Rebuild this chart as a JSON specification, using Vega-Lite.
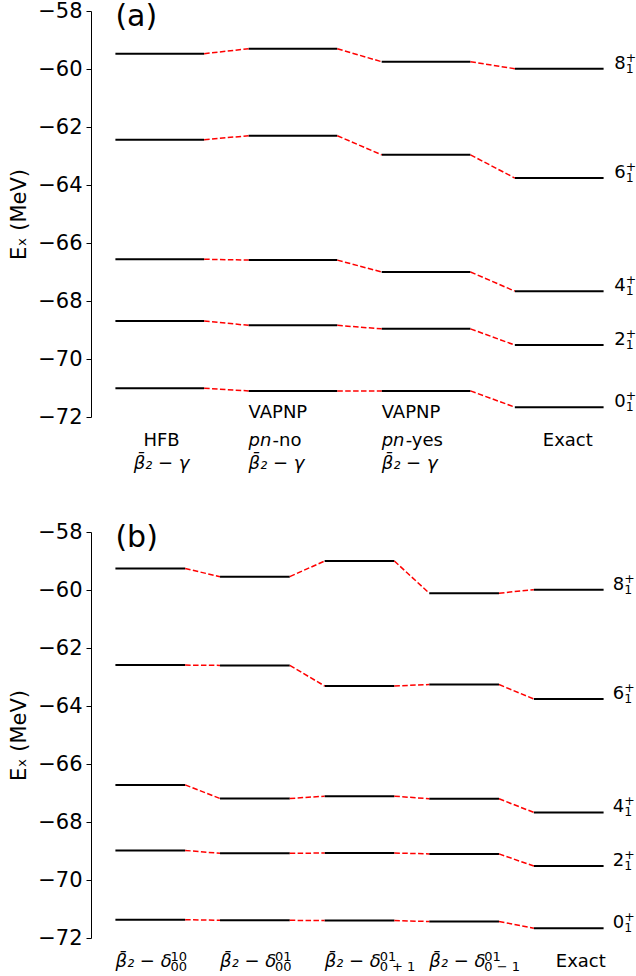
{
  "$schema": "https://vega.github.io/schema/vega-lite/v6.json",
  "padding": {"left": 8, "top": 0, "right": 0, "bottom": 0},
  "bounds": "flush",
  "spacing": 115,
  "config": {
    "font": "DejaVu Sans",
    "view": {"stroke": null},
    "axis": {"grid": false, "labelFontSize": 21, "labelColor": "black", "tickColor": "black", "domainColor": "black", "tickSize": 5, "labelPadding": 4, "titleFontSize": 21, "titleFontWeight": "normal", "titleColor": "black", "titlePadding": 8, "labelFlush": false, "labelOverlap": false}
  },
  "datasets": {
    "levels": [
      {"panel": "a", "method": "HFB", "m": 0, "state": "8", "E": -59.47},
      {"panel": "a", "method": "HFB", "m": 0, "state": "6", "E": -62.44},
      {"panel": "a", "method": "HFB", "m": 0, "state": "4", "E": -66.56},
      {"panel": "a", "method": "HFB", "m": 0, "state": "2", "E": -68.69},
      {"panel": "a", "method": "HFB", "m": 0, "state": "0", "E": -71.01},
      {"panel": "a", "method": "VAPNP pn-no", "m": 1, "state": "8", "E": -59.30},
      {"panel": "a", "method": "VAPNP pn-no", "m": 1, "state": "6", "E": -62.30},
      {"panel": "a", "method": "VAPNP pn-no", "m": 1, "state": "4", "E": -66.59},
      {"panel": "a", "method": "VAPNP pn-no", "m": 1, "state": "2", "E": -68.84},
      {"panel": "a", "method": "VAPNP pn-no", "m": 1, "state": "0", "E": -71.10},
      {"panel": "a", "method": "VAPNP pn-yes", "m": 2, "state": "8", "E": -59.75},
      {"panel": "a", "method": "VAPNP pn-yes", "m": 2, "state": "6", "E": -62.96},
      {"panel": "a", "method": "VAPNP pn-yes", "m": 2, "state": "4", "E": -67.00},
      {"panel": "a", "method": "VAPNP pn-yes", "m": 2, "state": "2", "E": -68.96},
      {"panel": "a", "method": "VAPNP pn-yes", "m": 2, "state": "0", "E": -71.10},
      {"panel": "a", "method": "Exact", "m": 3, "state": "8", "E": -59.99},
      {"panel": "a", "method": "Exact", "m": 3, "state": "6", "E": -63.76},
      {"panel": "a", "method": "Exact", "m": 3, "state": "4", "E": -67.66},
      {"panel": "a", "method": "Exact", "m": 3, "state": "2", "E": -69.52},
      {"panel": "a", "method": "Exact", "m": 3, "state": "0", "E": -71.66},
      {"panel": "b", "method": "d00-10", "m": 0, "state": "8", "E": -59.26},
      {"panel": "b", "method": "d00-10", "m": 0, "state": "6", "E": -62.59},
      {"panel": "b", "method": "d00-10", "m": 0, "state": "4", "E": -66.72},
      {"panel": "b", "method": "d00-10", "m": 0, "state": "2", "E": -68.98},
      {"panel": "b", "method": "d00-10", "m": 0, "state": "0", "E": -71.37},
      {"panel": "b", "method": "d00-01", "m": 1, "state": "8", "E": -59.54},
      {"panel": "b", "method": "d00-01", "m": 1, "state": "6", "E": -62.60},
      {"panel": "b", "method": "d00-01", "m": 1, "state": "4", "E": -67.19},
      {"panel": "b", "method": "d00-01", "m": 1, "state": "2", "E": -69.08},
      {"panel": "b", "method": "d00-01", "m": 1, "state": "0", "E": -71.39},
      {"panel": "b", "method": "d0+1-01", "m": 2, "state": "8", "E": -59.00},
      {"panel": "b", "method": "d0+1-01", "m": 2, "state": "6", "E": -63.31},
      {"panel": "b", "method": "d0+1-01", "m": 2, "state": "4", "E": -67.11},
      {"panel": "b", "method": "d0+1-01", "m": 2, "state": "2", "E": -69.07},
      {"panel": "b", "method": "d0+1-01", "m": 2, "state": "0", "E": -71.40},
      {"panel": "b", "method": "d0-1-01", "m": 3, "state": "8", "E": -60.11},
      {"panel": "b", "method": "d0-1-01", "m": 3, "state": "6", "E": -63.26},
      {"panel": "b", "method": "d0-1-01", "m": 3, "state": "4", "E": -67.20},
      {"panel": "b", "method": "d0-1-01", "m": 3, "state": "2", "E": -69.10},
      {"panel": "b", "method": "d0-1-01", "m": 3, "state": "0", "E": -71.43},
      {"panel": "b", "method": "Exact", "m": 4, "state": "8", "E": -59.99},
      {"panel": "b", "method": "Exact", "m": 4, "state": "6", "E": -63.76},
      {"panel": "b", "method": "Exact", "m": 4, "state": "4", "E": -67.67},
      {"panel": "b", "method": "Exact", "m": 4, "state": "2", "E": -69.52},
      {"panel": "b", "method": "Exact", "m": 4, "state": "0", "E": -71.66}
    ],
    "labels": [
      {"panel": "a", "m": 0, "line": 2, "part": "plain", "text": "HFB"},
      {"panel": "a", "m": 0, "line": 3, "part": "math", "text": "\u03b2\u0304\u2082 \u2212 \u03b3"},
      {"panel": "a", "m": 1, "line": 1, "part": "plain", "text": "VAPNP"},
      {"panel": "a", "m": 1, "line": 2, "part": "math", "text": "pn"},
      {"panel": "a", "m": 1, "line": 2, "part": "tail", "text": "-no"},
      {"panel": "a", "m": 1, "line": 3, "part": "math", "text": "\u03b2\u0304\u2082 \u2212 \u03b3"},
      {"panel": "a", "m": 2, "line": 1, "part": "plain", "text": "VAPNP"},
      {"panel": "a", "m": 2, "line": 2, "part": "math", "text": "pn"},
      {"panel": "a", "m": 2, "line": 2, "part": "tail", "text": "-yes"},
      {"panel": "a", "m": 2, "line": 3, "part": "math", "text": "\u03b2\u0304\u2082 \u2212 \u03b3"},
      {"panel": "a", "m": 3, "line": 2, "part": "plain", "text": "Exact"},
      {"panel": "b", "m": 0, "line": 2, "part": "math", "text": "\u03b2\u0304\u2082 \u2212 \u03b4", "sup": "10", "sub": "00"},
      {"panel": "b", "m": 1, "line": 2, "part": "math", "text": "\u03b2\u0304\u2082 \u2212 \u03b4", "sup": "01", "sub": "00"},
      {"panel": "b", "m": 2, "line": 2, "part": "math", "text": "\u03b2\u0304\u2082 \u2212 \u03b4", "sup": "01", "sub": "0 + 1"},
      {"panel": "b", "m": 3, "line": 2, "part": "math", "text": "\u03b2\u0304\u2082 \u2212 \u03b4", "sup": "01", "sub": "0 \u2212 1"},
      {"panel": "b", "m": 4, "line": 2, "part": "plain", "text": "Exact"},
      {"panel": "a", "m": 0, "line": 0, "part": "tag", "text": "(a)"},
      {"panel": "b", "m": 0, "line": 0, "part": "tag", "text": "(b)"}
    ]
  },
  "vconcat": [
    {
      "width": 537, "height": 406,
      "layer": [
        {
          "data": {"name": "levels"},
          "transform": [{"filter": "datum.panel === 'a'"}, {"calculate": "3*datum.m", "as": "x0"}, {"calculate": "3*datum.m+2", "as": "x1"}],
          "mark": {"type": "rule", "color": "black", "strokeWidth": 2},
          "encoding": {
            "x": {"field": "x0", "type": "quantitative", "scale": {"domain": [-0.55, 11.55], "nice": false, "zero": false}, "axis": null},
            "x2": {"field": "x1"},
            "y": {"field": "E", "type": "quantitative", "scale": {"domain": [-72, -58], "nice": false, "zero": false}, "axis": {"values": [-72, -70, -68, -66, -64, -62, -60, -58], "title": "E\u2093 (MeV)"}}
          }
        },
        {
          "data": {"name": "levels"},
          "transform": [
            {"filter": "datum.panel === 'a'"},
            {"window": [{"op": "lead", "field": "E", "as": "En"}], "groupby": ["state"], "sort": [{"field": "m", "order": "ascending"}]},
            {"filter": "datum.En != null"},
            {"calculate": "3*datum.m+2", "as": "xa"},
            {"calculate": "3*datum.m+3", "as": "xb"}
          ],
          "mark": {"type": "rule", "color": "red", "strokeWidth": 1.5, "strokeDash": [5.5, 2.4]},
          "encoding": {
            "x": {"field": "xa", "type": "quantitative", "scale": {"domain": [-0.55, 11.55], "nice": false, "zero": false}, "axis": null},
            "x2": {"field": "xb"},
            "y": {"field": "E", "type": "quantitative", "scale": {"domain": [-72, -58], "nice": false, "zero": false}, "axis": {"values": [-72, -70, -68, -66, -64, -62, -60, -58], "title": "E\u2093 (MeV)"}},
            "y2": {"field": "En"}
          }
        },
        {
          "data": {"name": "levels"},
          "transform": [{"filter": "datum.panel === 'a' && datum.method === 'Exact'"}, {"calculate": "3*datum.m+2.24", "as": "lx"}],
          "mark": {"type": "text", "align": "left", "baseline": "alphabetic", "fontSize": 18, "color": "black"},
          "encoding": {
            "x": {"field": "lx", "type": "quantitative", "scale": {"domain": [-0.55, 11.55], "nice": false, "zero": false}, "axis": null},
            "y": {"field": "E", "type": "quantitative", "scale": {"domain": [-72, -58], "nice": false, "zero": false}, "axis": {"values": [-72, -70, -68, -66, -64, -62, -60, -58], "title": "E\u2093 (MeV)"}},
            "text": {"field": "state"}
          }
        },
        {
          "data": {"name": "levels"},
          "transform": [{"filter": "datum.panel === 'a' && datum.method === 'Exact'"}, {"calculate": "3*datum.m+2.24", "as": "lx"}],
          "mark": {"type": "text", "align": "left", "baseline": "alphabetic", "fontSize": 12.5, "dx": 11.5, "dy": -7, "color": "black"},
          "encoding": {
            "x": {"field": "lx", "type": "quantitative", "scale": {"domain": [-0.55, 11.55], "nice": false, "zero": false}, "axis": null},
            "y": {"field": "E", "type": "quantitative", "scale": {"domain": [-72, -58], "nice": false, "zero": false}, "axis": {"values": [-72, -70, -68, -66, -64, -62, -60, -58], "title": "E\u2093 (MeV)"}},
            "text": {"value": "+"}
          }
        },
        {
          "data": {"name": "levels"},
          "transform": [{"filter": "datum.panel === 'a' && datum.method === 'Exact'"}, {"calculate": "3*datum.m+2.24", "as": "lx"}],
          "mark": {"type": "text", "align": "left", "baseline": "alphabetic", "fontSize": 12.5, "dx": 11.5, "dy": 4, "color": "black"},
          "encoding": {
            "x": {"field": "lx", "type": "quantitative", "scale": {"domain": [-0.55, 11.55], "nice": false, "zero": false}, "axis": null},
            "y": {"field": "E", "type": "quantitative", "scale": {"domain": [-72, -58], "nice": false, "zero": false}, "axis": {"values": [-72, -70, -68, -66, -64, -62, -60, -58], "title": "E\u2093 (MeV)"}},
            "text": {"value": "1"}
          }
        },
        {
          "data": {"name": "labels"},
          "transform": [{"filter": "datum.panel === 'a' && datum.part === 'tag'"}],
          "mark": {"type": "text", "align": "left", "baseline": "alphabetic", "fontSize": 30, "color": "black"},
          "encoding": {
            "x": {"datum": 0, "type": "quantitative", "scale": {"domain": [-0.55, 11.55], "nice": false, "zero": false}, "axis": null},
            "y": {"datum": -58.52, "type": "quantitative", "scale": {"domain": [-72, -58], "nice": false, "zero": false}, "axis": {"values": [-72, -70, -68, -66, -64, -62, -60, -58], "title": "E\u2093 (MeV)"}},
            "text": {"field": "text"}
          }
        },
        {
          "data": {"name": "labels"},
          "transform": [{"filter": "datum.panel === 'a' && datum.m === 0 && datum.part === 'plain'"}, {"calculate": "3*datum.m+1.04", "as": "lx"}, {"calculate": "datum.line === 1 ? -72.05 : (datum.line === 2 ? -73.01 : -73.78)", "as": "ly"}],
          "mark": {"type": "text", "align": "center", "baseline": "alphabetic", "fontSize": 18, "color": "black"},
          "encoding": {
            "x": {"field": "lx", "type": "quantitative", "scale": {"domain": [-0.55, 11.55], "nice": false, "zero": false}, "axis": null},
            "y": {"field": "ly", "type": "quantitative", "scale": {"domain": [-72, -58], "nice": false, "zero": false}, "axis": {"values": [-72, -70, -68, -66, -64, -62, -60, -58], "title": "E\u2093 (MeV)"}},
            "text": {"field": "text"}
          }
        },
        {
          "data": {"name": "labels"},
          "transform": [{"filter": "datum.panel === 'a' && datum.m === 0 && datum.part === 'math'"}, {"calculate": "3*datum.m+1.04", "as": "lx"}, {"calculate": "datum.line === 1 ? -72.05 : (datum.line === 2 ? -73.01 : -73.78)", "as": "ly"}],
          "mark": {"type": "text", "align": "center", "baseline": "alphabetic", "fontSize": 18, "fontStyle": "italic", "color": "black"},
          "encoding": {
            "x": {"field": "lx", "type": "quantitative", "scale": {"domain": [-0.55, 11.55], "nice": false, "zero": false}, "axis": null},
            "y": {"field": "ly", "type": "quantitative", "scale": {"domain": [-72, -58], "nice": false, "zero": false}, "axis": {"values": [-72, -70, -68, -66, -64, -62, -60, -58], "title": "E\u2093 (MeV)"}},
            "text": {"field": "text"}
          }
        },
        {
          "data": {"name": "labels"},
          "transform": [{"filter": "datum.panel === 'a' && datum.m > 0 && datum.part === 'plain'"}, {"calculate": "datum.text === 'Exact' ? 3*datum.m+0.63 : 3*datum.m", "as": "lx"}, {"calculate": "datum.line === 1 ? -72.05 : (datum.line === 2 ? -73.01 : -73.78)", "as": "ly"}],
          "mark": {"type": "text", "align": "left", "baseline": "alphabetic", "fontSize": 18, "color": "black"},
          "encoding": {
            "x": {"field": "lx", "type": "quantitative", "scale": {"domain": [-0.55, 11.55], "nice": false, "zero": false}, "axis": null},
            "y": {"field": "ly", "type": "quantitative", "scale": {"domain": [-72, -58], "nice": false, "zero": false}, "axis": {"values": [-72, -70, -68, -66, -64, -62, -60, -58], "title": "E\u2093 (MeV)"}},
            "text": {"field": "text"}
          }
        },
        {
          "data": {"name": "labels"},
          "transform": [{"filter": "datum.panel === 'a' && datum.m > 0 && datum.part === 'math'"}, {"calculate": "3*datum.m", "as": "lx"}, {"calculate": "datum.line === 1 ? -72.05 : (datum.line === 2 ? -73.01 : -73.78)", "as": "ly"}],
          "mark": {"type": "text", "align": "left", "baseline": "alphabetic", "fontSize": 18, "fontStyle": "italic", "color": "black"},
          "encoding": {
            "x": {"field": "lx", "type": "quantitative", "scale": {"domain": [-0.55, 11.55], "nice": false, "zero": false}, "axis": null},
            "y": {"field": "ly", "type": "quantitative", "scale": {"domain": [-72, -58], "nice": false, "zero": false}, "axis": {"values": [-72, -70, -68, -66, -64, -62, -60, -58], "title": "E\u2093 (MeV)"}},
            "text": {"field": "text"}
          }
        },
        {
          "data": {"name": "labels"},
          "transform": [{"filter": "datum.panel === 'a' && datum.part === 'tail'"}, {"calculate": "3*datum.m", "as": "lx"}, {"calculate": "datum.line === 1 ? -72.05 : (datum.line === 2 ? -73.01 : -73.78)", "as": "ly"}],
          "mark": {"type": "text", "align": "left", "baseline": "alphabetic", "fontSize": 18, "dx": 24, "color": "black"},
          "encoding": {
            "x": {"field": "lx", "type": "quantitative", "scale": {"domain": [-0.55, 11.55], "nice": false, "zero": false}, "axis": null},
            "y": {"field": "ly", "type": "quantitative", "scale": {"domain": [-72, -58], "nice": false, "zero": false}, "axis": {"values": [-72, -70, -68, -66, -64, -62, -60, -58], "title": "E\u2093 (MeV)"}},
            "text": {"field": "text"}
          }
        }
      ]
    },
    {
      "width": 537, "height": 406,
      "layer": [
        {
          "data": {"name": "levels"},
          "transform": [{"filter": "datum.panel === 'b'"}, {"calculate": "3*datum.m", "as": "x0"}, {"calculate": "3*datum.m+2", "as": "x1"}],
          "mark": {"type": "rule", "color": "black", "strokeWidth": 2},
          "encoding": {
            "x": {"field": "x0", "type": "quantitative", "scale": {"domain": [-0.7, 14.7], "nice": false, "zero": false}, "axis": null},
            "x2": {"field": "x1"},
            "y": {"field": "E", "type": "quantitative", "scale": {"domain": [-72, -58], "nice": false, "zero": false}, "axis": {"values": [-72, -70, -68, -66, -64, -62, -60, -58], "title": "E\u2093 (MeV)"}}
          }
        },
        {
          "data": {"name": "levels"},
          "transform": [
            {"filter": "datum.panel === 'b'"},
            {"window": [{"op": "lead", "field": "E", "as": "En"}], "groupby": ["state"], "sort": [{"field": "m", "order": "ascending"}]},
            {"filter": "datum.En != null"},
            {"calculate": "3*datum.m+2", "as": "xa"},
            {"calculate": "3*datum.m+3", "as": "xb"}
          ],
          "mark": {"type": "rule", "color": "red", "strokeWidth": 1.5, "strokeDash": [5.5, 2.4]},
          "encoding": {
            "x": {"field": "xa", "type": "quantitative", "scale": {"domain": [-0.7, 14.7], "nice": false, "zero": false}, "axis": null},
            "x2": {"field": "xb"},
            "y": {"field": "E", "type": "quantitative", "scale": {"domain": [-72, -58], "nice": false, "zero": false}, "axis": {"values": [-72, -70, -68, -66, -64, -62, -60, -58], "title": "E\u2093 (MeV)"}},
            "y2": {"field": "En"}
          }
        },
        {
          "data": {"name": "levels"},
          "transform": [{"filter": "datum.panel === 'b' && datum.method === 'Exact'"}, {"calculate": "3*datum.m+2.26", "as": "lx"}],
          "mark": {"type": "text", "align": "left", "baseline": "alphabetic", "fontSize": 18, "color": "black"},
          "encoding": {
            "x": {"field": "lx", "type": "quantitative", "scale": {"domain": [-0.7, 14.7], "nice": false, "zero": false}, "axis": null},
            "y": {"field": "E", "type": "quantitative", "scale": {"domain": [-72, -58], "nice": false, "zero": false}, "axis": {"values": [-72, -70, -68, -66, -64, -62, -60, -58], "title": "E\u2093 (MeV)"}},
            "text": {"field": "state"}
          }
        },
        {
          "data": {"name": "levels"},
          "transform": [{"filter": "datum.panel === 'b' && datum.method === 'Exact'"}, {"calculate": "3*datum.m+2.26", "as": "lx"}],
          "mark": {"type": "text", "align": "left", "baseline": "alphabetic", "fontSize": 12.5, "dx": 11.5, "dy": -7, "color": "black"},
          "encoding": {
            "x": {"field": "lx", "type": "quantitative", "scale": {"domain": [-0.7, 14.7], "nice": false, "zero": false}, "axis": null},
            "y": {"field": "E", "type": "quantitative", "scale": {"domain": [-72, -58], "nice": false, "zero": false}, "axis": {"values": [-72, -70, -68, -66, -64, -62, -60, -58], "title": "E\u2093 (MeV)"}},
            "text": {"value": "+"}
          }
        },
        {
          "data": {"name": "levels"},
          "transform": [{"filter": "datum.panel === 'b' && datum.method === 'Exact'"}, {"calculate": "3*datum.m+2.26", "as": "lx"}],
          "mark": {"type": "text", "align": "left", "baseline": "alphabetic", "fontSize": 12.5, "dx": 11.5, "dy": 4, "color": "black"},
          "encoding": {
            "x": {"field": "lx", "type": "quantitative", "scale": {"domain": [-0.7, 14.7], "nice": false, "zero": false}, "axis": null},
            "y": {"field": "E", "type": "quantitative", "scale": {"domain": [-72, -58], "nice": false, "zero": false}, "axis": {"values": [-72, -70, -68, -66, -64, -62, -60, -58], "title": "E\u2093 (MeV)"}},
            "text": {"value": "1"}
          }
        },
        {
          "data": {"name": "labels"},
          "transform": [{"filter": "datum.panel === 'b' && datum.part === 'tag'"}],
          "mark": {"type": "text", "align": "left", "baseline": "alphabetic", "fontSize": 30, "color": "black"},
          "encoding": {
            "x": {"datum": 0, "type": "quantitative", "scale": {"domain": [-0.7, 14.7], "nice": false, "zero": false}, "axis": null},
            "y": {"datum": -58.52, "type": "quantitative", "scale": {"domain": [-72, -58], "nice": false, "zero": false}, "axis": {"values": [-72, -70, -68, -66, -64, -62, -60, -58], "title": "E\u2093 (MeV)"}},
            "text": {"field": "text"}
          }
        },
        {
          "data": {"name": "labels"},
          "transform": [{"filter": "datum.panel === 'b' && datum.part === 'plain'"}, {"calculate": "3*datum.m+0.63", "as": "lx"}],
          "mark": {"type": "text", "align": "left", "baseline": "alphabetic", "fontSize": 18, "color": "black"},
          "encoding": {
            "x": {"field": "lx", "type": "quantitative", "scale": {"domain": [-0.7, 14.7], "nice": false, "zero": false}, "axis": null},
            "y": {"datum": -73.01, "type": "quantitative", "scale": {"domain": [-72, -58], "nice": false, "zero": false}, "axis": {"values": [-72, -70, -68, -66, -64, -62, -60, -58], "title": "E\u2093 (MeV)"}},
            "text": {"field": "text"}
          }
        },
        {
          "data": {"name": "labels"},
          "transform": [{"filter": "datum.panel === 'b' && datum.part === 'math'"}, {"calculate": "3*datum.m", "as": "lx"}],
          "mark": {"type": "text", "align": "left", "baseline": "alphabetic", "fontSize": 18, "fontStyle": "italic", "color": "black"},
          "encoding": {
            "x": {"field": "lx", "type": "quantitative", "scale": {"domain": [-0.7, 14.7], "nice": false, "zero": false}, "axis": null},
            "y": {"datum": -73.01, "type": "quantitative", "scale": {"domain": [-72, -58], "nice": false, "zero": false}, "axis": {"values": [-72, -70, -68, -66, -64, -62, -60, -58], "title": "E\u2093 (MeV)"}},
            "text": {"field": "text"}
          }
        },
        {
          "data": {"name": "labels"},
          "transform": [{"filter": "datum.panel === 'b' && datum.part === 'math'"}, {"calculate": "3*datum.m", "as": "lx"}],
          "mark": {"type": "text", "align": "left", "baseline": "alphabetic", "fontSize": 13, "dx": 55, "dy": -6, "color": "black"},
          "encoding": {
            "x": {"field": "lx", "type": "quantitative", "scale": {"domain": [-0.7, 14.7], "nice": false, "zero": false}, "axis": null},
            "y": {"datum": -73.01, "type": "quantitative", "scale": {"domain": [-72, -58], "nice": false, "zero": false}, "axis": {"values": [-72, -70, -68, -66, -64, -62, -60, -58], "title": "E\u2093 (MeV)"}},
            "text": {"field": "sup"}
          }
        },
        {
          "data": {"name": "labels"},
          "transform": [{"filter": "datum.panel === 'b' && datum.part === 'math'"}, {"calculate": "3*datum.m", "as": "lx"}],
          "mark": {"type": "text", "align": "left", "baseline": "alphabetic", "fontSize": 13, "dx": 55, "dy": 4, "color": "black"},
          "encoding": {
            "x": {"field": "lx", "type": "quantitative", "scale": {"domain": [-0.7, 14.7], "nice": false, "zero": false}, "axis": null},
            "y": {"datum": -73.01, "type": "quantitative", "scale": {"domain": [-72, -58], "nice": false, "zero": false}, "axis": {"values": [-72, -70, -68, -66, -64, -62, -60, -58], "title": "E\u2093 (MeV)"}},
            "text": {"field": "sub"}
          }
        }
      ]
    }
  ]
}
